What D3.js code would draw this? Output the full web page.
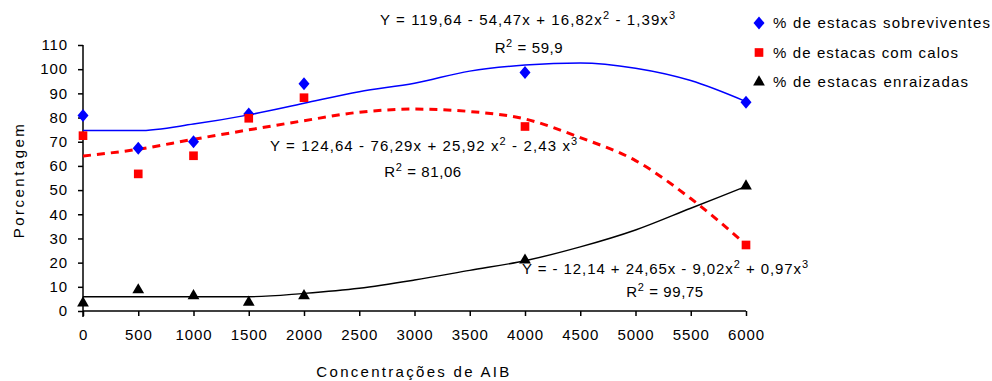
<!DOCTYPE html>
<html><head><meta charset="utf-8">
<script src="https://cdn.jsdelivr.net/npm/d3@7"></script>
<style>
html,body{margin:0;padding:0;background:#fff;}
text{font-family:"Liberation Sans",Arial,sans-serif;fill:#000;}
</style></head>
<body><svg id="c" width="992" height="381"></svg>
<script>
// ---- data ----
const concentrations = [0, 500, 1000, 1500, 2000, 4000, 6000];
const sobreviventes = [80.8, 67.3, 70, 81.5, 94, 98.6, 86.3];
const comCalos = [72.5, 56.7, 64.2, 79.7, 88.2, 76.3, 27.3];
const enraizadas = [3.3, 8.7, 6.3, 3.6, 6.3, 21, 51.7];

const fitX = [0, 500, 1000, 1500, 2000, 2500, 3000, 3500, 4000, 4500, 5000, 5500, 6000];
const fitSobreviventes = [74.6, 74.6, 77.3, 81.1, 85.9, 90.7, 94.2, 99.2, 101.7, 102.6, 100.4, 95.3, 86.6];
const fitCalos = [64.1, 66.9, 71, 74.9, 78.7, 82.2, 83.5, 82.5, 79.4, 71.7, 62.2, 46.5, 27.5];
const fitEnraizadas = [5.9, 5.9, 5.9, 5.9, 7.3, 9.4, 12.8, 16.8, 20.8, 26.5, 33.5, 42.5, 51.5];

const xTicks = [0, 500, 1000, 1500, 2000, 2500, 3000, 3500, 4000, 4500, 5000, 5500, 6000];
const yTicks = [0, 10, 20, 30, 40, 50, 60, 70, 80, 90, 100, 110];

const legendLabels = ["% de estacas sobreviventes", "% de estacas com calos", "% de estacas enraizadas"];
const eqLabels = [
  ["Y = 119,64 - 54,47x + 16,82x", "2", " - 1,39x", "3"],
  ["Y = 124,64 - 76,29x + 25,92 x", "2", " - 2,43 x", "3"],
  ["Y = - 12,14 + 24,65x - 9,02x", "2", " + 0,97x", "3"]
];
const r2Values = ["59,9", "81,06", "99,75"];
const xTitle = "Concentrações de AIB";
const yTitle = "Porcentagem";

// ---- layout ----
const svg = d3.select("#c");
svg.append("rect").attr("width", 992).attr("height", 381).attr("fill", "#fff");
const x = d3.scaleLinear().domain([0, 6000]).range([83, 746]);
const y = d3.scaleLinear().domain([0, 110]).range([311, 45]);

function fit(sel, w) {
  const n = sel.node();
  const len = n.getComputedTextLength();
  const chars = n.textContent.length;
  sel.attr("letter-spacing", ((w - len) / Math.max(1, chars - 1)).toFixed(2));
}

// axes
const xAxis = d3.axisBottom(x).tickValues(xTicks).tickSize(5).tickPadding(13).tickFormat(d3.format("d"));
const gx = svg.append("g").attr("transform", "translate(0,311)").call(xAxis);
const yAxis = d3.axisLeft(y).tickValues(yTicks).tickSize(5).tickPadding(10).tickFormat(d3.format("d"));
const gy = svg.append("g").attr("transform", "translate(83,0)").call(yAxis);
[gx, gy].forEach(g => {
  g.select(".domain").attr("stroke", "#000").attr("stroke-width", 1.5);
  g.selectAll(".tick line").attr("stroke", "#000").attr("stroke-width", 1.5);
  g.selectAll("text").attr("font-size", 15).attr("font-family", "Liberation Sans, Arial, sans-serif").attr("fill", "#000").attr("letter-spacing", 0.9);
});
gx.select(".domain").attr("d", "M83,0H746");
gy.select(".domain").attr("d", "M0,45V317");

// axis titles
const xt = svg.append("text").attr("x", 414).attr("y", 377).attr("text-anchor", "middle").attr("font-size", 15).text(xTitle);
fit(xt, 193);
const yt = svg.append("text").attr("transform", "translate(24,180) rotate(-90)").attr("text-anchor", "middle").attr("font-size", 15).text(yTitle);
fit(yt, 114);

// fit lines
const line = d3.line().x(d => x(d[0])).y(d => y(d[1])).curve(d3.curveMonotoneX);
svg.append("path").attr("d", line(d3.zip(fitX, fitEnraizadas))).attr("fill", "none").attr("stroke", "#000").attr("stroke-width", 1.4);
svg.append("path").attr("d", line(d3.zip(fitX, fitSobreviventes))).attr("fill", "none").attr("stroke", "#0000ff").attr("stroke-width", 1.5);
svg.append("path").attr("d", line(d3.zip(fitX, fitCalos))).attr("fill", "none").attr("stroke", "#ff0000").attr("stroke-width", 3).attr("stroke-dasharray", "8,6");

// markers
const wideDiamond = {draw(ctx) { ctx.moveTo(0, -6.5); ctx.lineTo(5.5, 0); ctx.lineTo(0, 6.5); ctx.lineTo(-5.5, 0); ctx.closePath(); }};
const diamond = d3.symbol().type(wideDiamond);
const square = d3.symbol().type(d3.symbolSquare).size(75);
const tri = d3.symbol().type(d3.symbolTriangle).size(60);
function marks(vals, sym, color) {
  svg.append("g").selectAll("path").data(d3.zip(concentrations, vals)).join("path")
    .attr("d", sym).attr("fill", color)
    .attr("transform", d => `translate(${x(d[0])},${y(d[1])})`);
}
marks(sobreviventes, diamond, "#0000ff");
marks(comCalos, square, "#ff0000");
marks(enraizadas, tri, "#000");

// equations
const eqPos = [
  {x: 380, y: 25, w: 295, rx: 529, ry: 53},
  {x: 270, y: 151, w: 307, rx: 423, ry: 177},
  {x: 522, y: 274, w: 286, rx: 665, ry: 297}
];
eqLabels.forEach((parts, i) => {
  const p = eqPos[i];
  const t = svg.append("text").attr("x", p.x).attr("y", p.y).attr("font-size", 15);
  t.append("tspan").text(parts[0]);
  t.append("tspan").attr("dy", -6).attr("font-size", 11).text(parts[1]);
  t.append("tspan").attr("dy", 6).text(parts[2]);
  t.append("tspan").attr("dy", -6).attr("font-size", 11).text(parts[3]);
  fit(t, p.w);
  const r = svg.append("text").attr("x", p.rx).attr("y", p.ry).attr("text-anchor", "middle").attr("font-size", 15);
  r.append("tspan").text("R");
  r.append("tspan").attr("dy", -6).attr("font-size", 11).text("2");
  r.append("tspan").attr("dy", 6).text(" = " + r2Values[i]);
  r.attr("letter-spacing", 0.6);
});

// legend
const legSyms = [diamond, square, tri];
const legColors = ["#0000ff", "#ff0000", "#000"];
const legW = [217, 185, 195];
legendLabels.forEach((lab, i) => {
  const cy = 23 + i * 29.5;
  svg.append("path").attr("d", legSyms[i]).attr("fill", legColors[i]).attr("transform", `translate(759,${cy})`);
  const t = svg.append("text").attr("x", 773).attr("y", cy + 5).attr("font-size", 15).text(lab);
  fit(t, legW[i]);
});
</script></body></html>
